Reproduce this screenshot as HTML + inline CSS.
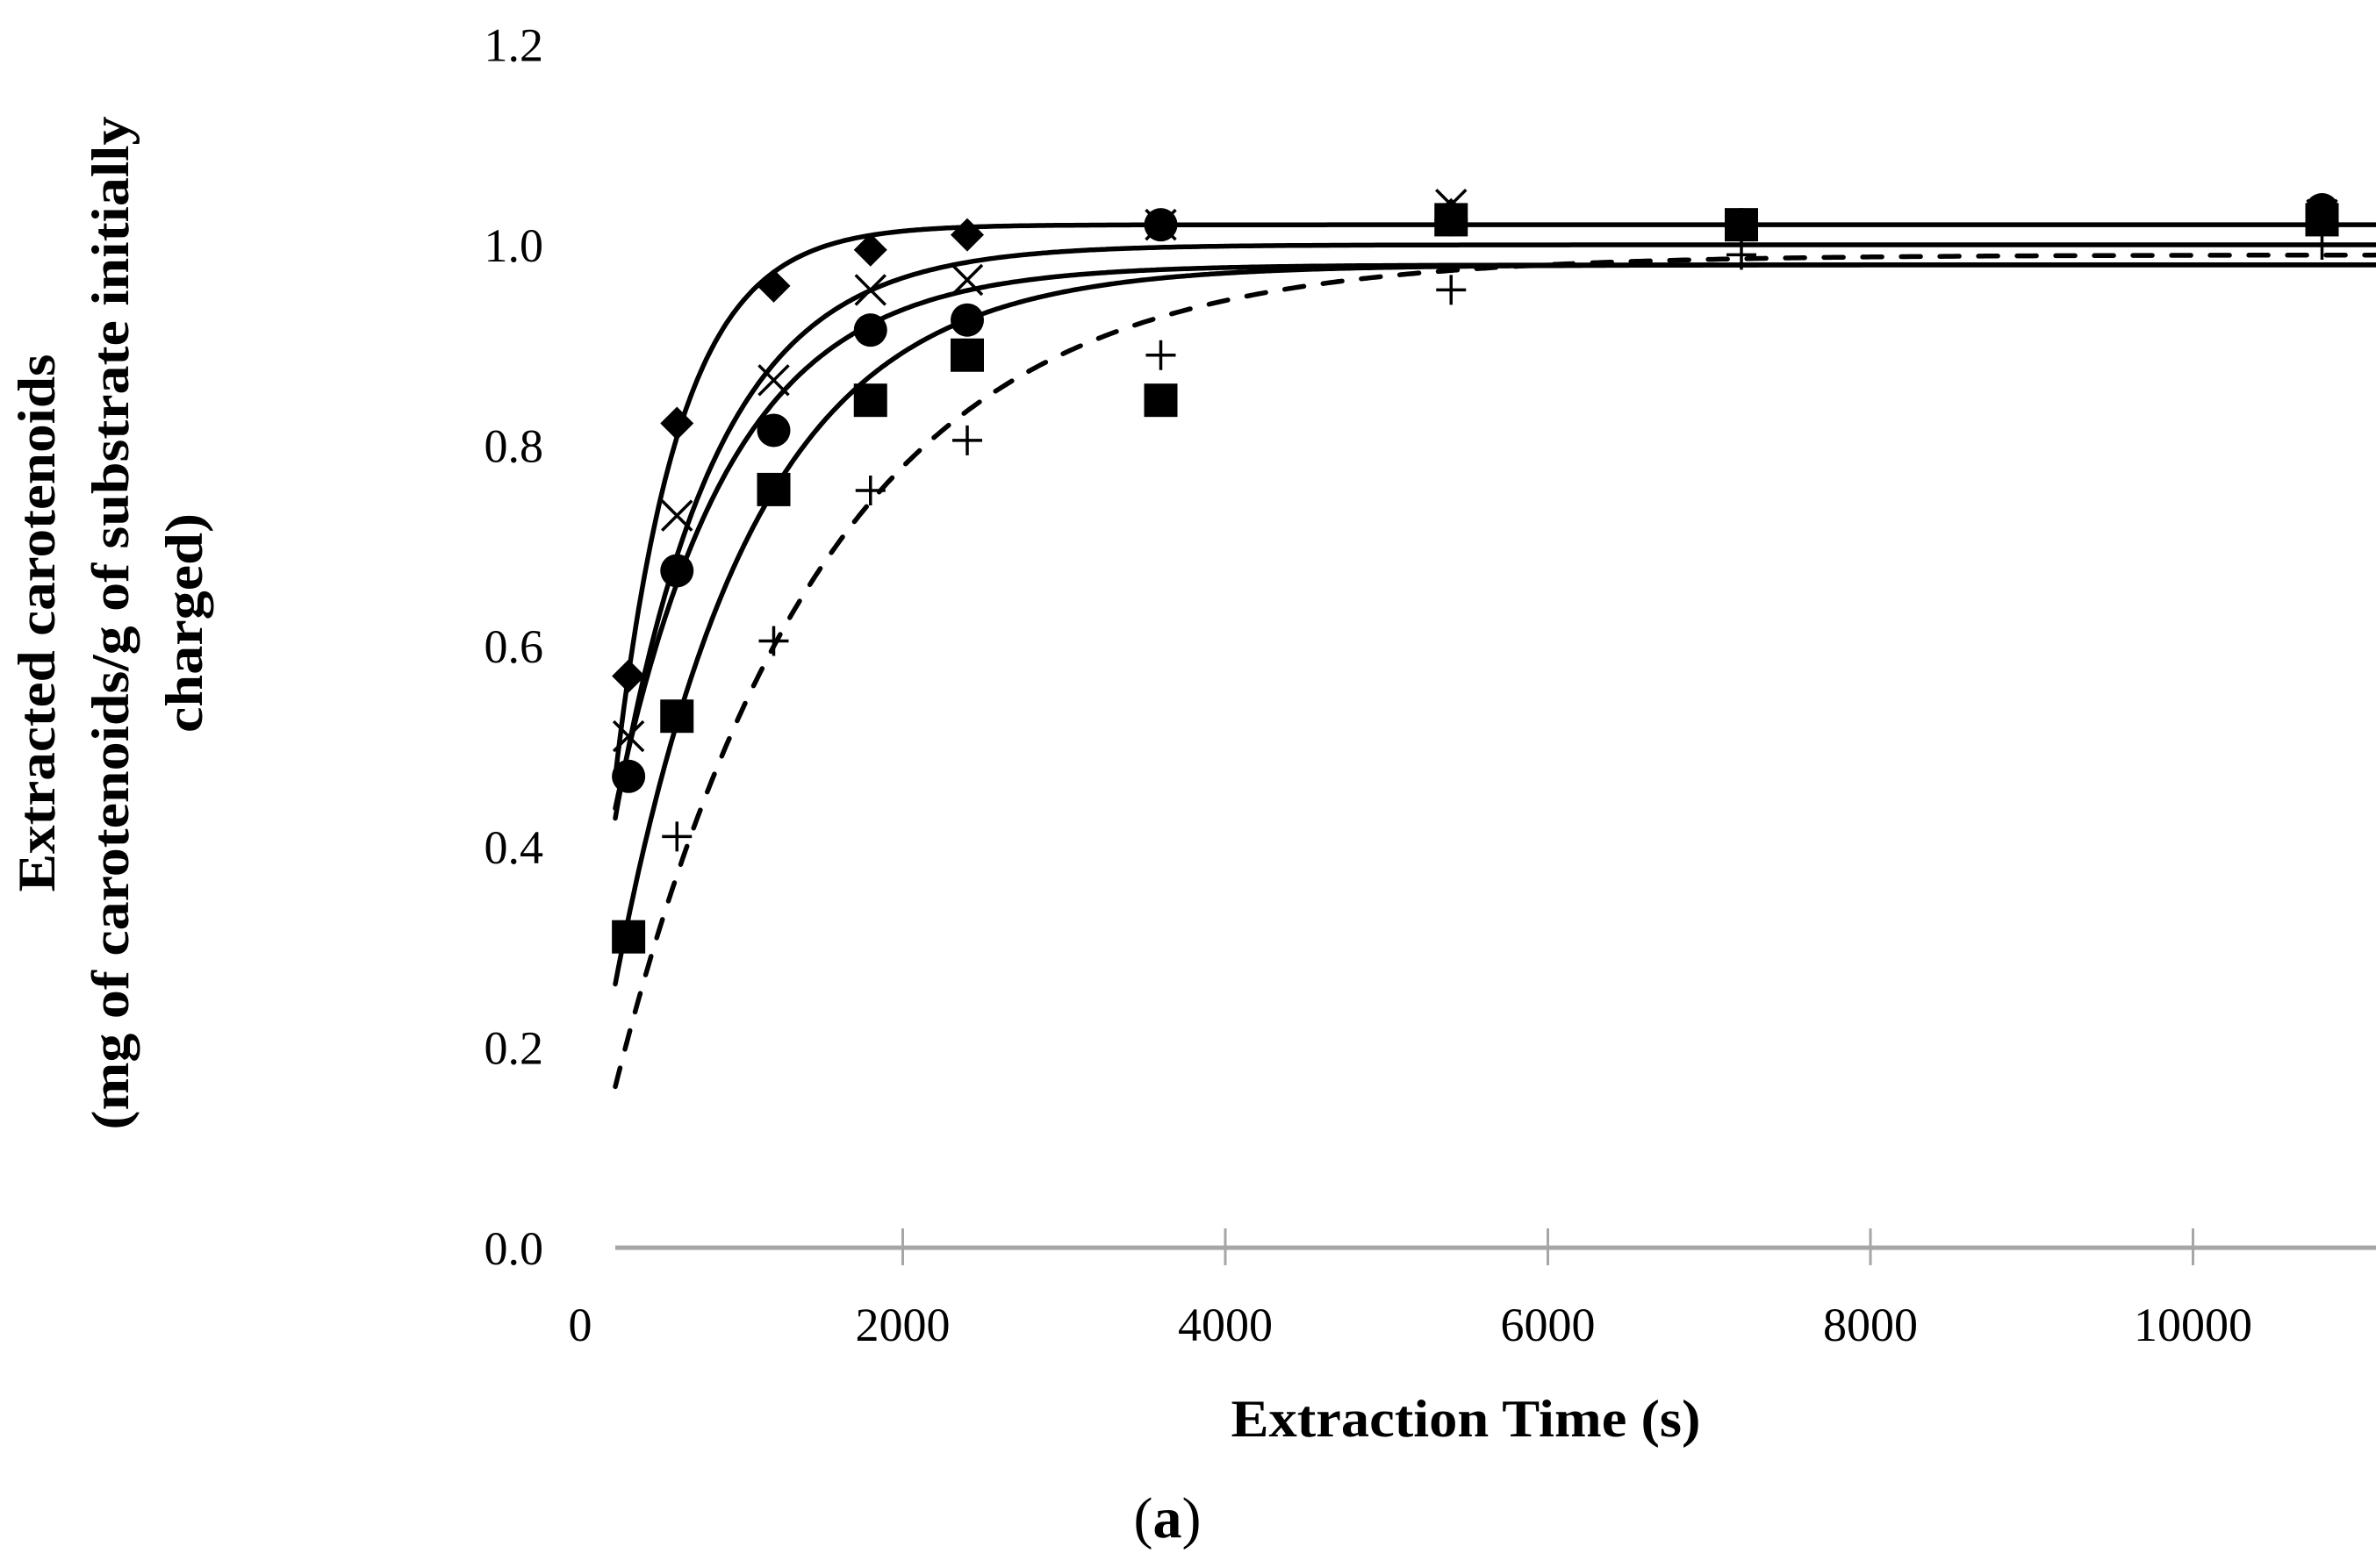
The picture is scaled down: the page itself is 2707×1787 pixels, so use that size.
<!DOCTYPE html>
<html><head><meta charset="utf-8">
<style>
html,body{margin:0;padding:0;background:#fff;}
svg{display:block;}
text{font-family:"Liberation Serif",serif;fill:#000;}
</style></head>
<body>
<svg id="chart" width="2707" height="1787" viewBox="0 0 2707 1787" xmlns="http://www.w3.org/2000/svg">
  <g id="axes"></g>
  <g id="curves"></g>
  <g id="points"></g>
  <g font-size="60">
    <text transform="translate(62,710) rotate(-90)" text-anchor="middle" font-weight="bold" textLength="613" lengthAdjust="spacingAndGlyphs">Extracted carotenoids</text>
    <text transform="translate(146,710) rotate(-90)" text-anchor="middle" font-weight="bold" textLength="1155" lengthAdjust="spacingAndGlyphs">(mg of carotenoids/g of substrate initially</text>
    <text transform="translate(230,710) rotate(-90)" text-anchor="middle" font-weight="bold" textLength="250" lengthAdjust="spacingAndGlyphs">charged)</text>
  </g>
  <text x="1670" y="1637" font-size="60" font-weight="bold" text-anchor="middle" textLength="535" lengthAdjust="spacingAndGlyphs">Extraction Time (s)</text>
  <text x="1330" y="1752" font-size="66" text-anchor="middle">(<tspan font-weight="bold">a</tspan>)</text>
</svg>
<script>
const xTicks = [0, 2000, 4000, 6000, 8000, 10000];
const yTicks = [0.0, 0.2, 0.4, 0.6, 0.8, 1.0, 1.2];
const yTickLabels = ["0.0", "0.2", "0.4", "0.6", "0.8", "1.0", "1.2"];
const times = [300, 600, 1200, 1800, 2400, 3600, 5400, 7200, 10800];
const diamondVals = [0.57, 0.822, 0.959, 0.995, 1.01, 1.02, 1.03, 1.02, 1.03];
const crossVals = [0.51, 0.73, 0.865, 0.955, 0.965, 1.02, 1.04, 1.02, 1.03];
const circleVals = [0.47, 0.675, 0.815, 0.915, 0.925, 1.02, 1.025, 1.02, 1.035];
const squareVals = [0.31, 0.53, 0.756, 0.845, 0.89, 0.845, 1.025, 1.02, 1.025];
const plusTimes = [600, 1200, 1800, 2400, 3600, 5400, 7200, 10800];
const plusVals = [0.41, 0.605, 0.755, 0.805, 0.89, 0.955, 0.99, 1.0];
// fitted model y = A*(1 - B*exp(-k t))
const fitA = [1.02, 1.0, 0.98, 0.98, 0.99];
const fitB = [0.93, 0.81, 0.75, 0.946, 0.99];
const fitK = [0.0025, 0.0016, 0.0014, 0.00118, 0.000767];
const fitNames = ["diamond-fit", "cross-fit", "circle-fit", "square-fit", "plus-fit"];

const NS = "http://www.w3.org/2000/svg";
const X0 = 661, XS = 0.18375, Y0 = 1422, YS = 1143;
const xAt = t => X0 + t * XS;
const yAt = v => Y0 - v * YS;
const tMin = (701 - X0) / XS, tMax = (2707 - X0) / XS;

function mk(tag, attrs, parent) {
  const e = document.createElementNS(NS, tag);
  for (const k in attrs) e.setAttribute(k, attrs[k]);
  parent.appendChild(e);
  return e;
}
const axes = document.getElementById('axes');
const xl = mk('line', {x1: 701, x2: 2707, y1: yAt(0), y2: yAt(0), stroke: '#a6a6a6', 'stroke-width': 5}, axes);


xTicks.forEach((t, i) => {
  if (t > 0) {
    const tk = mk('line', {x1: xAt(t), x2: xAt(t), y1: 1400, y2: 1442, stroke: '#a6a6a6', 'stroke-width': 3}, axes);
    
    
  }
  const lb = mk('text', {x: xAt(t), y: 1528, 'font-size': 54, 'text-anchor': 'middle'}, axes);
  lb.textContent = String(t);
  
  
});
yTicks.forEach((v, i) => {
  const lb = mk('text', {x: 619, y: yAt(v) + 19, 'font-size': 54, 'text-anchor': 'end'}, axes);
  lb.textContent = yTickLabels[i];
  
  
});

const curves = document.getElementById('curves');
fitA.forEach((A, i) => {
  let d = '';
  for (let j = 0; j <= 600; j++) {
    const t = tMin + (tMax - tMin) * j / 600;
    const v = A * (1 - fitB[i] * Math.exp(-fitK[i] * t));
    d += (j ? 'L' : 'M') + xAt(t).toFixed(1) + ',' + yAt(v).toFixed(1);
  }
  const attrs = {d: d, fill: 'none', stroke: '#000', 'stroke-width': 5.5, 'stroke-linecap': 'round'};
  if (i === 4) attrs['stroke-dasharray'] = '22 22';
  const p = mk('path', attrs, curves);
  
  
});

const pts = document.getElementById('points');
times.forEach((t, i) => {
  const x = xAt(t);
  let y = yAt(squareVals[i]);
  const sq = mk('rect', {x: x - 19, y: y - 19, width: 38, height: 38, fill: '#000'}, pts);
  
  
  y = yAt(circleVals[i]);
  const c = mk('circle', {cx: x, cy: y, r: 19, fill: '#000'}, pts);
  
  
  y = yAt(crossVals[i]);
  const cr = mk('path', {d: `M${x-17},${y-17}L${x+17},${y+17}M${x-17},${y+17}L${x+17},${y-17}`, stroke: '#000', 'stroke-width': 3.5, fill: 'none'}, pts);
  
  
  y = yAt(diamondVals[i]);
  const dm = mk('path', {d: `M${x},${y-19}L${x+19},${y}L${x},${y+19}L${x-19},${y}Z`, fill: '#000'}, pts);
  
  
});
plusTimes.forEach((t, i) => {
  const x = xAt(t), y = yAt(plusVals[i]);
  const p = mk('path', {d: `M${x-17},${y}L${x+17},${y}M${x},${y-17}L${x},${y+17}`, stroke: '#000', 'stroke-width': 3.5, fill: 'none'}, pts);
  
  
});
</script>
</body></html>
